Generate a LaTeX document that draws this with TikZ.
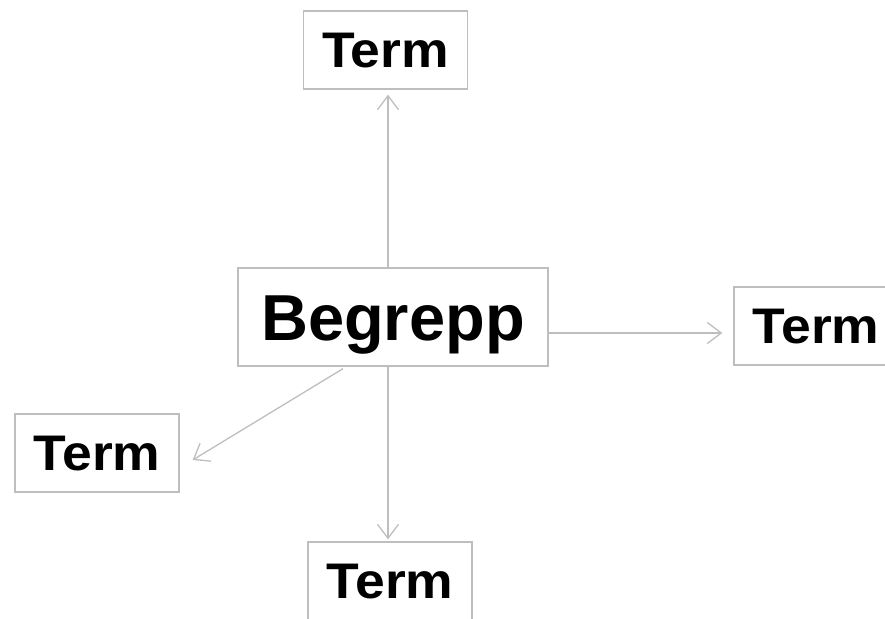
\documentclass[tikz,border=0pt]{standalone}
\usepackage{fontspec}
\setmainfont{Liberation Sans}
\newfontfamily\termfont[FakeStretch=1.07]{Liberation Sans}
\usetikzlibrary{arrows.meta}
\definecolor{lgray}{RGB}{190,190,190}
\tikzset{
  box/.style={draw=lgray, line width=1.3pt, inner sep=0pt, text depth=0pt},
  termbox/.style={box, minimum width=164pt, minimum height=78pt, font=\termfont\fontsize{50}{56}\selectfont\bfseries, text height=35.5pt},
  mainbox/.style={box, minimum width=310pt, minimum height=98pt, font=\fontsize{65}{72}\selectfont\bfseries, text height=47pt},
  conn/.style={draw=lgray, line width=1.3pt, -{Straight Barb[length=14pt, width=21pt, line width=1.3pt]}}
}
\begin{document}
\begin{tikzpicture}[x=1pt, y=-1pt]
\useasboundingbox (0,0) rectangle (885,618);
\node[mainbox] (B) at (393,317) {Begrepp};
\node[termbox] (T1) at (385.5,50) {Term};
\node[termbox] (T2) at (816,326) {Term};
\node[termbox] (T3) at (97,453) {Term};
\node[termbox] (T4) at (390,581) {Term};
\draw[conn, shorten >=5pt] ([xshift=-5pt]B.north) -- ([xshift=-5pt]B.north |- T1.south);
\draw[conn, shorten >=11pt] ([yshift=-16pt]B.east) -- ([yshift=-16pt]B.east -| T2.west);
\draw[conn] ([xshift=-50pt,yshift=-2pt]B.south) -- ([xshift=13pt,yshift=-7pt]T3.east);
\draw[conn, shorten >=2pt] ([xshift=-5pt]B.south) -- ([xshift=-5pt]B.south |- T4.north);
\end{tikzpicture}
\end{document}
